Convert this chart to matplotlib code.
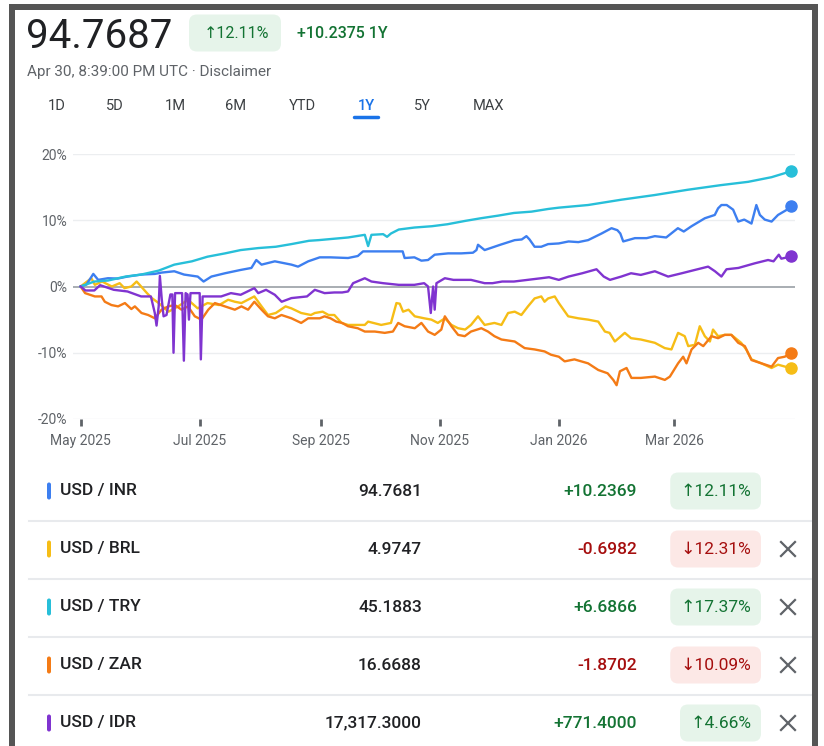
import matplotlib
matplotlib.use('Agg')
import matplotlib.pyplot as plt
from matplotlib.patches import FancyBboxPatch, Rectangle

# ---------------- data (day offset from May 1 2025, % change) ----------------
inr_days = [0, 3, 6.5, 9, 14, 19, 24, 31, 38, 41.5, 48, 53, 60, 63, 67, 74, 82, 87.5, 90, 92.7, 99.5, 108, 111.4,
            116.6, 122.5, 128, 137, 142, 144.7, 155, 165, 166, 171, 174.6, 178, 181.4, 188.3, 195, 201, 202.8,
            203.6, 207, 212, 215, 222.4, 226, 228.4, 230, 232.6, 236, 239.5, 245, 250, 255, 260, 266.9, 272, 275,
            276.5, 278, 284, 290, 294.2, 300, 306, 309, 313, 319.8, 324.9, 326.6, 328.3, 331, 334.3, 336.9, 340,
            343.7, 346.2, 348, 350.5, 354, 357.3, 362.5, 364]
inr_vals = [0, 0.3, 1.9, 1.0, 1.25, 1.2, 1.5, 1.8, 1.9, 2.1, 2.3, 1.8, 1.5, 0.75, 1.5, 2.0, 2.5, 2.8, 4.0, 3.3,
            3.8, 3.3, 3.0, 3.8, 4.4, 4.4, 4.3, 4.6, 5.3, 5.3, 5.3, 4.3, 4.4, 3.9, 4.0, 4.8, 5.0, 5.0, 5.1, 5.5,
            6.3, 5.5, 6.0, 6.3, 7.0, 7.1, 7.6, 7.1, 6.0, 6.0, 6.4, 6.5, 6.8, 6.7, 7.0, 8.0, 8.8, 8.5, 8.0, 6.8,
            7.3, 7.3, 7.6, 7.4, 8.8, 8.3, 9.1, 10.3, 10.8, 11.8, 12.3, 12.3, 11.6, 9.8, 10.1, 9.5, 12.3, 10.8,
            10.1, 9.8, 10.8, 11.7, 12.1]

try_days = [0, 7, 14, 23, 31, 40, 48, 57, 65, 74, 82, 91, 100, 108, 117, 122, 137, 145.6, 147.3, 149, 155, 157,
            159, 163, 171, 180, 188, 197, 205, 214, 222, 231, 239.5, 245, 260, 277, 294, 311, 328, 342, 354, 364]
try_vals = [0, 0.75, 0.9, 1.5, 1.8, 2.4, 3.3, 3.8, 4.5, 5.0, 5.5, 5.8, 6.0, 6.4, 6.9, 7.0, 7.4, 7.8, 6.1, 7.8,
            7.9, 7.5, 8.0, 8.6, 8.9, 9.1, 9.4, 9.9, 10.3, 10.7, 11.1, 11.3, 11.7, 11.9, 12.3, 13.1, 13.8, 14.6,
            15.3, 15.8, 16.5, 17.4]

idr_days = [0, 2.5, 7, 10, 14, 17, 24, 31, 36, 38, 38.9, 40, 40.6, 41.6, 42.5, 44, 46, 47, 47.6, 48.4, 52, 52.9,
            53.8, 54.8, 55.5, 56.3, 61, 61.6, 62.5, 66, 72, 77, 82, 89, 91, 95, 99.5, 103, 108, 116, 120, 125, 130,
            134, 137, 139.6, 145.6, 149, 155, 163, 171, 176, 178, 179.4, 180.6, 181.4, 182.3, 186.6, 191, 196,
            200, 207, 211, 216, 222, 229, 236, 240, 245, 250, 257, 264.3, 268, 271.2, 277, 282, 287, 294.2, 301,
            308, 314.7, 321.5, 325, 328.3, 330.9, 337, 345.4, 352.2, 355, 357.7, 359, 362, 364]
idr_vals = [0, -0.6, -0.6, 0.2, -0.2, -0.5, -0.75, -1.5, -1.5, -4.0, -5.9, -3.0, 1.6, -2.0, -4.5, -4.3, -1.2,
            -1.2, -10.0, -1.0, -1.0, -11.2, -1.0, -1.2, -5.0, -1.0, -1.0, -11.0, -1.5, -1.5, -1.5, -1.0, -1.25,
            -0.25, -1.0, -0.5, -1.25, -2.3, -1.75, -1.5, -0.5, -1.0, -0.9, -0.9, -0.75, 0.5, 1.25, 0.75, 0.5,
            0.25, 0.25, 0.5, 0.0, -4.0, 0.0, -3.5, 0.5, 1.25, 1.0, 1.0, 1.0, 0.5, 0.5, 0.75, 0.75, 1.0, 1.25, 1.4,
            1.0, 1.5, 2.0, 2.6, 1.5, 1.0, 1.5, 2.0, 1.75, 2.3, 1.5, 2.0, 2.5, 3.0, 2.3, 1.5, 2.6, 2.8, 3.5, 4.0,
            3.8, 4.8, 4.2, 4.4, 4.6]

brl_days = [0, 5.5, 7.3, 11, 16, 20, 22.5, 26, 28.7, 31, 34, 36.5, 40, 45, 50, 55, 60, 65, 71, 75.6, 79, 82.4, 89,
            92.7, 96, 100, 105, 108, 113, 118, 120, 124, 127, 130, 133.7, 137, 142, 145.6, 147.3, 154, 159, 161.8,
            163.5, 165.2, 168, 171.2, 176, 179.7, 183, 186.6, 190, 193.4, 197, 200, 203.6, 207, 212, 215.6, 219,
            222.4, 225.8, 229.2, 232.6, 236, 237.7, 239.5, 242.9, 245, 249.8, 255, 260, 265.2, 268.6, 271, 273.7,
            278.8, 282, 287, 294.2, 299.3, 302.7, 306.1, 309.5, 311.3, 314.7, 317.2, 319.8, 322.4, 324, 326.6,
            330, 333.4, 338.4, 341, 343.7, 348.8, 354, 357.3, 361, 364]
brl_vals = [0, 1.25, 0.25, 0.75, 0.0, 0.5, -0.25, 0.0, 0.75, 0.0, -1.0, -1.75, -2.5, -3.8, -3.0, -2.0, -3.3,
            -2.5, -2.8, -2.0, -2.3, -2.5, -1.5, -3.0, -4.3, -4.0, -3.0, -3.3, -4.0, -4.3, -4.0, -3.8, -4.3, -4.3,
            -5.5, -5.8, -5.8, -5.8, -5.3, -5.8, -5.5, -2.5, -2.6, -3.8, -3.5, -4.5, -4.8, -5.0, -5.5, -4.8, -5.8,
            -6.3, -6.5, -5.8, -4.5, -5.8, -5.5, -5.8, -4.0, -3.8, -4.3, -3.0, -1.8, -1.5, -2.3, -1.8, -1.5, -2.5,
            -4.5, -4.8, -5.0, -5.3, -6.8, -7.0, -8.3, -7.0, -7.8, -8.0, -8.5, -9.3, -9.5, -7.0, -7.5, -9.0, -8.8,
            -6.0, -7.5, -8.3, -6.5, -7.5, -7.3, -7.3, -8.5, -9.5, -11.0, -11.6, -12.3, -11.8, -12.1, -12.3]

zar_days = [0, 2.3, 7.3, 10.7, 12.4, 15.8, 19.2, 22.7, 26, 27.8, 31.2, 34.6, 38, 41.5, 44.9, 48.3, 51.7, 55, 58.5,
            61.9, 65.4, 68.8, 73.9, 79, 82.4, 85.8, 89, 92.7, 96, 99.5, 102.9, 108, 113, 116.6, 122.5, 125, 128,
            131, 134, 137, 142, 145.6, 150.7, 155.8, 160, 162.7, 166, 171.2, 174.6, 178, 181.4, 184.8, 186.6, 190,
            193.4, 196.8, 200, 205.3, 208.7, 212, 215.6, 222.4, 227.5, 232.6, 237.7, 241, 245, 248, 253, 260,
            265.2, 270, 272.9, 274.6, 276.3, 279.7, 282.2, 287, 294.2, 299.3, 301.9, 306.1, 308.7, 310.4, 313,
            316.4, 319, 323.2, 326.6, 330, 333.4, 336.9, 340.3, 343.7, 348.8, 354, 357.3, 360.7, 364]
zar_vals = [0, -1.0, -1.5, -1.5, -2.3, -2.8, -3.0, -2.5, -3.4, -3.0, -4.0, -4.3, -4.8, -3.5, -3.0, -2.8, -3.5,
            -3.0, -4.5, -5.0, -3.5, -2.5, -3.0, -3.5, -3.0, -3.5, -2.3, -3.5, -4.5, -4.8, -4.3, -4.8, -5.5, -4.8,
            -4.8, -4.5, -4.8, -5.3, -5.5, -6.0, -6.3, -6.8, -6.8, -7.0, -6.8, -5.5, -6.0, -6.3, -5.5, -6.8, -7.3,
            -6.5, -4.5, -6.0, -7.3, -7.5, -6.8, -6.3, -6.8, -7.5, -8.0, -8.3, -9.3, -9.5, -9.8, -10.3, -10.6,
            -11.3, -11.0, -11.6, -12.6, -13.1, -14.1, -14.9, -12.8, -12.3, -13.8, -13.8, -13.6, -14.1, -13.6,
            -11.6, -10.6, -11.6, -9.5, -8.5, -9.0, -7.5, -7.8, -7.3, -7.3, -8.5, -9.0, -11.1, -11.6, -12.1, -10.8,
            -10.6, -10.1]

tick_days = [0, 61, 123, 184, 245, 304]
tick_labels = ['May 2025', 'Jul 2025', 'Sep 2025', 'Nov 2025', 'Jan 2026', 'Mar 2026']
y_ticks = [20, 10, 0, -10, -20]
y_labels = ['20%', '10%', '0%', '-10%', '-20%']

headline = '94.7687'
head_pct = '12.11%'
head_change = '+10.2375 1Y'
timestamp = 'Apr 30, 8:39:00 PM UTC · Disclaimer'
ranges = ['1D', '5D', '1M', '6M', 'YTD', '1Y', '5Y', 'MAX']
active_range = '1Y'

pairs = ['USD / INR', 'USD / BRL', 'USD / TRY', 'USD / ZAR', 'USD / IDR']
prices = ['94.7681', '4.9747', '45.1883', '16.6688', '17,317.3000']
changes = ['+10.2369', '-0.6982', '+6.6866', '-1.8702', '+771.4000']
pcts = ['12.11%', '12.31%', '17.37%', '10.09%', '4.66%']
ups = [True, False, True, False, True]
removable = [False, True, True, True, True]

# ---------------- style ----------------
C_INR, C_BRL, C_TRY, C_ZAR, C_IDR = '#3d7ff0', '#f6bd16', '#27bfd9', '#f47b16', '#8034d0'
row_colors = [C_INR, C_BRL, C_TRY, C_ZAR, C_IDR]
GREEN, RED = '#137333', '#a50e0e'
GREEN_BG, RED_BG = '#e6f4ea', '#fce8e6'
DARK, GRAY = '#202124', '#5f6368'
FONT = ['Roboto', 'DejaVu Sans']

W, H = 824, 746
plt.rcParams['font.family'] = FONT
fig = plt.figure(figsize=(W / 100, H / 100), dpi=100)
fig.patch.set_facecolor('white')

ov = fig.add_axes([0, 0, 1, 1], zorder=0)
ov.set_xlim(0, W)
ov.set_ylim(H, 0)
ov.axis('off')

# frame
for (x0, y0, w, h) in [(9, 4, 6, H), (9, 4, 809, 6), (812, 4, 6, H)]:
    ov.add_patch(Rectangle((x0, y0), w, h, color='#555555', lw=0, zorder=5))

renderer = fig.canvas.get_renderer()


def badge(xr, yc, txt, up, fs, pad=10, h=37, xl=None):
    col = GREEN if up else RED
    bg = GREEN_BG if up else RED_BG
    arrow = '↑' if up else '↓'
    t = ov.text(xr - pad, yc, arrow + txt, ha='right', va='center', fontsize=fs, color=col,
                family=FONT, zorder=3)
    bb = t.get_window_extent(renderer=renderer)
    left = (xr - pad - bb.width - pad) if xl is None else xl
    ov.add_patch(FancyBboxPatch((left, yc - h / 2), xr - left, h,
                                boxstyle='round,pad=0,rounding_size=8', fc=bg, ec='none', zorder=2))


# header
ov.text(26, 48, headline, fontsize=29, color=DARK, va='baseline', ha='left')
badge(281, 33, head_pct, True, 11.5, pad=12, h=37, xl=189)
ov.text(297, 33, head_change, fontsize=11.5, color=GREEN, va='center', ha='left', weight='medium')
ov.text(27, 72, timestamp, fontsize=11, color=GRAY, va='center', ha='left')
tab_x = [57, 115, 175, 236, 302, 366, 422, 489]
for tx, lab in zip(tab_x, ranges):
    active = lab == active_range
    ov.text(tx, 106, lab, fontsize=10.5, color='#1a73e8' if active else '#3c4043', ha='center', va='center',
            weight='medium' if active else 'normal')
    if active:
        ov.plot([tx - 12, tx + 12], [117, 117], color='#1a73e8', lw=2.5, solid_capstyle='round')

# chart
ax = fig.add_axes([73 / W, 1 - 419 / H, (795 - 73) / W, (419 - 154) / H], zorder=2)
ax.set_facecolor('none')
ax.set_xlim(-3.9, 366)
ax.set_ylim(-20, 20)
for s in ax.spines.values():
    s.set_visible(False)
for yv in y_ticks:
    if yv != 0:
        ax.axhline(yv, color='#eceef0', lw=1, zorder=0)
ax.axhline(0, color='#9aa0a6', lw=1.2, zorder=1)

series = [(brl_days, brl_vals, C_BRL), (zar_days, zar_vals, C_ZAR), (inr_days, inr_vals, C_INR),
          (try_days, try_vals, C_TRY), (idr_days, idr_vals, C_IDR)]
for i, (d, v, c) in enumerate(series):
    ax.plot(d, v, color=c, lw=1.7, zorder=3 + i, solid_joinstyle='round')
    ax.plot([d[-1]], [v[-1]], 'o', color=c, ms=8, zorder=10, clip_on=False)

ax.set_yticks(y_ticks)
ax.set_yticklabels(y_labels)
ax.set_xticks(tick_days)
ax.set_xticklabels(tick_labels)
ax.tick_params(axis='y', length=0, pad=4, labelsize=10, labelcolor=GRAY)
ax.tick_params(axis='x', length=5, width=2, color='#5f6368', pad=6, labelsize=10, labelcolor=GRAY)

# table
row_y = [491, 549, 607, 665, 723]
for i, yc in enumerate(row_y):
    ov.add_patch(FancyBboxPatch((47, yc - 8.5), 4, 17, boxstyle='round,pad=0,rounding_size=2',
                                fc=row_colors[i], ec='none'))
    ov.text(60, yc, pairs[i], fontsize=12.5, color=DARK, va='center', ha='left', weight='medium')
    ov.text(422, yc, prices[i], fontsize=12.5, color=DARK, va='center', ha='right', weight='medium')
    ov.text(637, yc, changes[i], fontsize=12.5, color=GREEN if ups[i] else RED, va='center', ha='right',
            weight='medium')
    badge(761, yc, pcts[i], ups[i], 12.5)
    if removable[i]:
        s = 7
        ov.plot([788 - s, 788 + s], [yc - s, yc + s], color=GRAY, lw=1.6)
        ov.plot([788 - s, 788 + s], [yc + s, yc - s], color=GRAY, lw=1.6)
    if i < len(row_y) - 1:
        ov.plot([29, 812], [yc + 29.5, yc + 29.5], color='#e8eaed', lw=1.5)

fig.savefig('out.png', dpi=100, facecolor='white')
